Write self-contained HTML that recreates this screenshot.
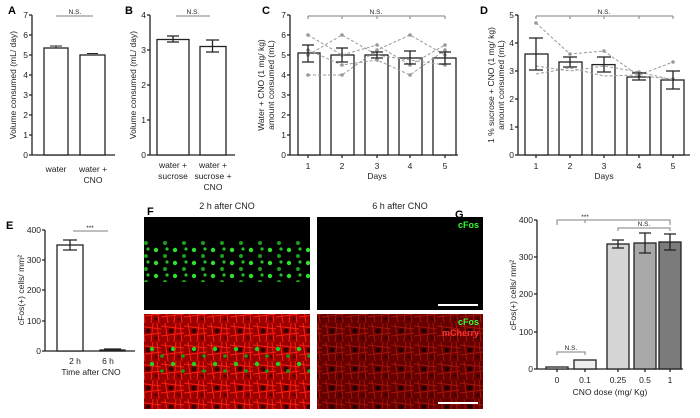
<!DOCTYPE html>
<html><head><meta charset="utf-8"><style>
body{margin:0;background:#fff;width:700px;height:413px;overflow:hidden}
svg{font-family:"Liberation Sans",sans-serif}
</style></head><body>
<svg width="700" height="413" viewBox="0 0 700 413">
<defs>
<pattern id="red" width="23" height="19" patternUnits="userSpaceOnUse">
<rect width="23" height="19" fill="#9a0000"/>
<path d="M0 3 L23 6 M4 0 L7 19 M0 13 L23 10 M15 0 L13 19 M19 0 L21 19" stroke="#ff2010" stroke-width="1"/>
<circle cx="10" cy="8" r="2.5" fill="#3a0000"/>
<circle cx="18" cy="15" r="1.5" fill="#500"/>
</pattern>
<pattern id="green" width="19" height="13" patternUnits="userSpaceOnUse">
<circle cx="4" cy="3" r="2.2" fill="#2fe02f"/>
<circle cx="13" cy="9" r="2" fill="#1aa01a"/>
<circle cx="15" cy="2" r="1.6" fill="#24c024"/>
</pattern>
<pattern id="green2" width="21" height="15" patternUnits="userSpaceOnUse">
<circle cx="5" cy="4" r="2.2" fill="#22d022"/>
<circle cx="15" cy="11" r="1.8" fill="#11a011"/>
</pattern>
</defs>
<g font-weight="bold" font-size="11" fill="#000">
<text x="8" y="14">A</text><text x="125" y="14">B</text><text x="262" y="14">C</text><text x="480" y="14">D</text>
<text x="6" y="229">E</text><text x="147" y="215">F</text><text x="455" y="218">G</text>
</g>
<g stroke="#222" stroke-width="1.3" fill="none" font-size="8.5">
<line x1="32" y1="15" x2="32" y2="155"/><line x1="32" y1="155" x2="115" y2="155"/>
<path d="M29 15H32M29 35H32M29 55H32M29 75H32M29 95H32M29 115H32M29 135H32M29 155H32"/>
<rect x="44" y="48" width="24" height="107" fill="#fff"/><rect x="80" y="55" width="25" height="100" fill="#fff"/>
<path d="M50 46H62M56 46V48M87 53.5H98" stroke-width="1"/>
<line x1="56" y1="16" x2="93" y2="16" stroke="#999"/>
<line x1="150" y1="15" x2="150" y2="155"/><line x1="150" y1="155" x2="235" y2="155"/>
<path d="M147 15H150M147 50H150M147 85H150M147 120H150M147 155H150"/>
<rect x="157" y="39.5" width="32" height="115.5" fill="#fff"/><rect x="200" y="46.5" width="26" height="108.5" fill="#fff"/>
<path d="M167 36H179M173 36V42M167 42H179M206 40H219M212.5 40V52M206 52H219"/>
<line x1="176" y1="16" x2="210" y2="16" stroke="#999"/>
<line x1="290" y1="15" x2="290" y2="155"/><line x1="290" y1="155" x2="458" y2="155"/>
<path d="M287 15H290M287 35H290M287 55H290M287 75H290M287 95H290M287 115H290M287 135H290M287 155H290"/>
<path d="M308 155V158M342 155V158M377 155V158M410 155V158M445 155V158"/>
<rect x="298" y="53" width="22" height="102" fill="#fff"/><rect x="331" y="55" width="23" height="100" fill="#fff"/>
<rect x="365" y="55" width="23" height="100" fill="#fff"/><rect x="399" y="58" width="23" height="97" fill="#fff"/><rect x="433" y="58" width="23" height="97" fill="#fff"/>
<g stroke="#999" stroke-width="1" stroke-dasharray="3,2">
<polyline points="308,35 342,55 377,45 410,65 445,45"/>
<polyline points="308,75 342,75 377,50 410,35 445,55"/>
<polyline points="308,55 342,35 377,55 410,60 445,65"/>
<polyline points="308,50 342,65 377,60 410,75 445,50"/>
</g>
<g fill="#999" stroke="none">
<circle cx="308" cy="35" r="1.8"/><circle cx="308" cy="75" r="1.8"/><circle cx="308" cy="55" r="1.8"/><circle cx="308" cy="50" r="1.8"/>
<circle cx="342" cy="55" r="1.8"/><circle cx="342" cy="75" r="1.8"/><circle cx="342" cy="35" r="1.8"/><circle cx="342" cy="65" r="1.8"/>
<circle cx="377" cy="45" r="1.8"/><circle cx="377" cy="50" r="1.8"/><circle cx="377" cy="60" r="1.8"/>
<circle cx="410" cy="65" r="1.8"/><circle cx="410" cy="35" r="1.8"/><circle cx="410" cy="75" r="1.8"/>
<circle cx="445" cy="45" r="1.8"/><circle cx="445" cy="55" r="1.8"/><circle cx="445" cy="65" r="1.8"/><circle cx="445" cy="50" r="1.8"/>
<circle cx="536" cy="23" r="1.8"/><circle cx="536" cy="74" r="1.8"/><circle cx="536" cy="66" r="1.8"/>
<circle cx="570" cy="54" r="1.8"/><circle cx="570" cy="68" r="1.8"/><circle cx="570" cy="71" r="1.8"/>
<circle cx="604" cy="51" r="1.8"/><circle cx="604" cy="76" r="1.8"/><circle cx="604" cy="66" r="1.8"/>
<circle cx="639" cy="76" r="1.8"/><circle cx="639" cy="72" r="1.8"/>
<circle cx="673" cy="79" r="1.8"/><circle cx="673" cy="62" r="1.8"/><circle cx="673" cy="80" r="1.8"/>
</g>
<path d="M302 45H314M308 45V62M302 62H314M336 48H348M342 48V62M336 62H348M371 52H383M377 52V58M371 58H383M404 51H416M410 51V64M404 64H416M439 52H451M445 52V64M439 64H451"/>
<path d="M308 16H445M308 16V19M342 16V19M377 16V19M410 16V19M445 16V19" stroke="#999"/>
<line x1="518" y1="15" x2="518" y2="155"/><line x1="518" y1="155" x2="690" y2="155"/>
<path d="M515 15H518M515 43H518M515 71H518M515 99H518M515 127H518M515 155H518"/>
<path d="M536 155V158M570 155V158M604 155V158M639 155V158M673 155V158"/>
<rect x="525" y="54" width="23" height="101" fill="#fff"/><rect x="559" y="62" width="23" height="93" fill="#fff"/>
<rect x="592" y="64.6" width="23" height="90.4" fill="#fff"/><rect x="627" y="77" width="23" height="78" fill="#fff"/><rect x="661" y="80" width="23" height="75" fill="#fff"/>
<g stroke="#999" stroke-width="1" stroke-dasharray="3,2">
<polyline points="536,23 570,54 604,51 639,76 673,79"/>
<polyline points="536,74 570,68 604,76 639,75 673,62"/>
<polyline points="536,66 570,71 604,66 639,72 673,80"/>
</g>
<path d="M529 38H543M536 38V70M529 70H543M563 57H577M570 57V67M563 67H577M597 57H611M604 57V72M597 72H611M632 73H646M639 73V80M632 80H646M666 71H680M673 71V89M666 89H680"/>
<path d="M536 16H673M536 16V19M570 16V19M604 16V19M639 16V19M673 16V19" stroke="#999"/>
<line x1="45" y1="230" x2="45" y2="351"/><line x1="45" y1="351" x2="135" y2="351"/>
<path d="M42 230H45M42 260H45M42 290H45M42 321H45M42 351H45"/>
<rect x="57" y="245" width="26" height="106" fill="#fff"/><rect x="100" y="350" width="25" height="1" fill="#fff"/>
<path d="M63 240H77M70 240V250M63 250H77M104 349H121"/>
<line x1="73" y1="231" x2="108" y2="231" stroke="#999"/>
<line x1="537" y1="220" x2="537" y2="369"/><line x1="537" y1="369" x2="683" y2="369"/>
<path d="M534 220H537M534 257H537M534 294H537M534 332H537M534 369H537"/>
<path d="M557 369V372M585 369V372M618 369V372M645 369V372M670 369V372"/>
<rect x="546" y="367" width="22" height="2" fill="#fff"/>
<rect x="574" y="360" width="22" height="9" fill="#eee"/>
<rect x="607" y="244" width="22" height="125" fill="#d6d6d6"/>
<rect x="634" y="243" width="22" height="126" fill="#a9a9a9"/>
<rect x="659" y="242" width="22" height="127" fill="#7b7b7b"/>
<path d="M612 240H624M618 240V248M612 248H624M639 233H651M645 233V253M639 253H651M664 234H676M670 234V250M664 250H676"/>
<path d="M557 225V220H670V225M585 220V223" stroke="#999"/>
<path d="M618 231V228H670V231" stroke="#999"/>
<path d="M557 355V352H585V355" stroke="#999"/>
</g>
<g font-size="8.5" fill="#222" text-anchor="end">
<text x="28" y="18">7</text><text x="28" y="38">6</text><text x="28" y="58">5</text><text x="28" y="78">4</text><text x="28" y="98">3</text><text x="28" y="118">2</text><text x="28" y="138">1</text><text x="28" y="158">0</text>
<text x="146" y="18">4</text><text x="146" y="53">3</text><text x="146" y="88">2</text><text x="146" y="123">1</text><text x="146" y="158">0</text>
<text x="286" y="18">7</text><text x="286" y="38">6</text><text x="286" y="58">5</text><text x="286" y="78">4</text><text x="286" y="98">3</text><text x="286" y="118">2</text><text x="286" y="138">1</text><text x="286" y="158">0</text>
<text x="514" y="18">5</text><text x="514" y="46">4</text><text x="514" y="74">3</text><text x="514" y="102">2</text><text x="514" y="130">1</text><text x="514" y="158">0</text>
<text x="41" y="233">400</text><text x="41" y="263">300</text><text x="41" y="293">200</text><text x="41" y="324">100</text><text x="41" y="354">0</text>
<text x="533" y="223">400</text><text x="533" y="260">300</text><text x="533" y="297">200</text><text x="533" y="335">100</text><text x="533" y="372">0</text>
</g>
<g font-size="8.5" fill="#222" text-anchor="middle">
<text x="56" y="172">water</text><text x="93" y="172">water +</text><text x="93" y="183">CNO</text>
<text x="173" y="168">water +</text><text x="173" y="179">sucrose</text><text x="213" y="168">water +</text><text x="213" y="179">sucrose +</text><text x="213" y="190">CNO</text>
<text x="308" y="169">1</text><text x="342" y="169">2</text><text x="377" y="169">3</text><text x="410" y="169">4</text><text x="445" y="169">5</text><text x="377" y="179">Days</text>
<text x="536" y="169">1</text><text x="570" y="169">2</text><text x="604" y="169">3</text><text x="639" y="169">4</text><text x="673" y="169">5</text><text x="604" y="179">Days</text>
<text x="75" y="364">2 h</text><text x="108" y="364">6 h</text><text x="91" y="375">Time after CNO</text>
<text x="557" y="383">0</text><text x="585" y="383">0.1</text><text x="618" y="383">0.25</text><text x="645" y="383">0.5</text><text x="670" y="383">1</text>
<text x="610" y="395">CNO dose (mg/ Kg)</text>
<text x="227" y="209" font-size="9">2 h after CNO</text><text x="400" y="209" font-size="9">6 h after CNO</text>
<g font-size="6.5"><text x="75" y="14">N.S.</text><text x="193" y="14">N.S.</text><text x="376" y="14">N.S.</text><text x="604" y="14">N.S.</text>
<text x="90" y="230">***</text><text x="585" y="219">***</text><text x="644" y="226">N.S.</text><text x="571" y="350">N.S.</text></g>
</g>
<g font-size="8.5" fill="#222" text-anchor="middle">
<text transform="translate(16,85) rotate(-90)">Volume consumed (mL/ day)</text>
<text transform="translate(136,85) rotate(-90)">Volume consumed (mL/ day)</text>
<text transform="translate(264,85) rotate(-90)">Water + CNO (1 mg/ kg)</text>
<text transform="translate(274,85) rotate(-90)">amount consumed (mL)</text>
<text transform="translate(494,85) rotate(-90)">1 % sucrose + CNO (1 mg/ kg)</text>
<text transform="translate(504,85) rotate(-90)">amount consumed (mL)</text>
<text transform="translate(24,290) rotate(-90)">cFos(+) cells/ mm²</text>
<text transform="translate(516,295) rotate(-90)">cFos(+) cells/ mm²</text>
</g>
<rect x="144" y="217" width="166" height="93" fill="#000"/>
<rect x="144" y="240" width="166" height="42" fill="url(#green)"/>
<rect x="144" y="314" width="166" height="95" fill="url(#red)"/>
<rect x="144" y="345" width="166" height="32" fill="url(#green2)"/>
<rect x="317" y="217" width="166" height="93" fill="#000"/>
<rect x="317" y="314" width="166" height="95" fill="url(#red)"/>
<rect x="317" y="314" width="166" height="95" fill="#000" opacity="0.35"/>
<line x1="438" y1="305" x2="478" y2="305" stroke="#fff" stroke-width="2"/>
<line x1="438" y1="403" x2="478" y2="403" stroke="#fff" stroke-width="2"/>
<g font-size="9" font-weight="bold" text-anchor="end">
<text x="479" y="228" fill="#3f3">cFos</text><text x="479" y="325" fill="#3f3">cFos</text><text x="479" y="336" fill="#f33">mCherry</text>
</g>
</svg>
</body></html>
